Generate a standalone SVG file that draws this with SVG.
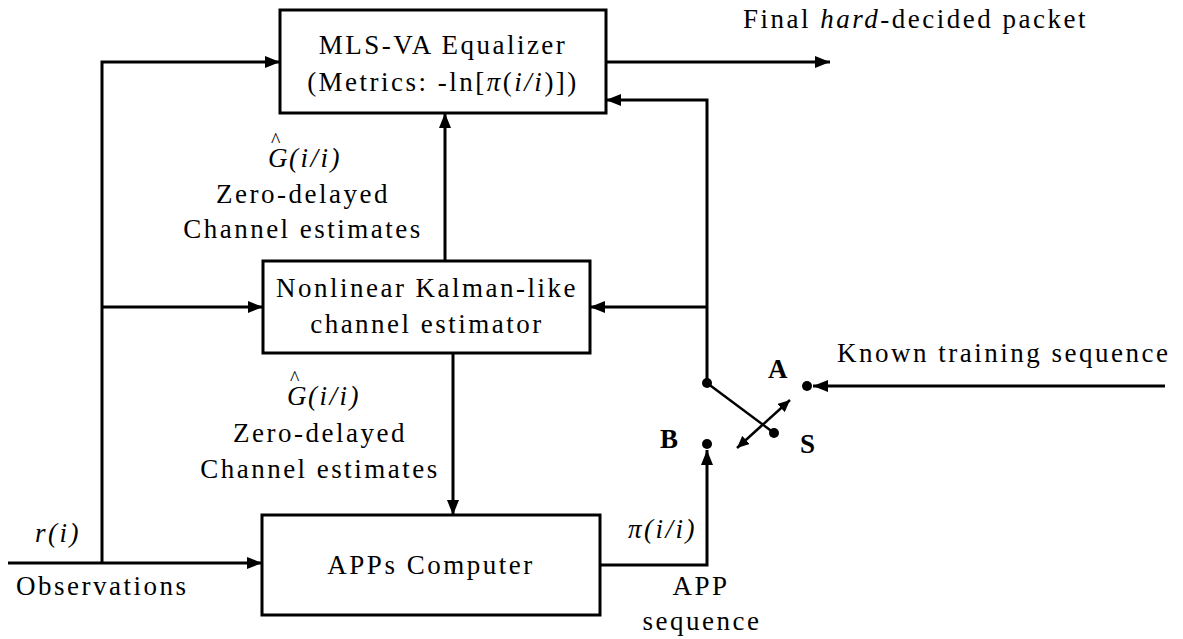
<svg xmlns="http://www.w3.org/2000/svg" width="1183" height="639" viewBox="0 0 1183 639">
<style>
text{font-family:"Liberation Serif","Times New Roman",serif;font-size:27px;fill:#000;letter-spacing:2.5px}
.i{font-style:italic}
.b{font-weight:bold;letter-spacing:0}
.hat{font-style:normal;font-size:20px;letter-spacing:0}
.box{fill:#fff;stroke:#000;stroke-width:3}
.ln{fill:none;stroke:#000;stroke-width:3}
.thin{fill:none;stroke:#000;stroke-width:2.5}
</style>
<defs>
<marker id="ah" markerUnits="userSpaceOnUse" markerWidth="16" markerHeight="12" refX="15" refY="6" orient="auto">
<path d="M0,0 L15,6 L0,12 z" fill="#000"/>
</marker>
<marker id="ahs" markerUnits="userSpaceOnUse" markerWidth="13" markerHeight="11" refX="12" refY="5.5" orient="auto-start-reverse">
<path d="M0,0 L12,5.5 L0,11 z" fill="#000"/>
</marker>
</defs>
<g id="connectors">
<path class="ln" d="M8,563 L262,563" marker-end="url(#ah)"/>
<path class="ln" d="M102,563 L102,62 L280,62" marker-end="url(#ah)"/>
<path class="ln" d="M102,307 L263,307" marker-end="url(#ah)"/>
<path class="ln" d="M606,62 L830,62" marker-end="url(#ah)"/>
<path class="ln" d="M707,383 L707,100 L606,100" marker-end="url(#ah)"/>
<path class="ln" d="M707,307 L590,307" marker-end="url(#ah)"/>
<path class="ln" d="M445,261 L445,113" marker-end="url(#ah)"/>
<path class="ln" d="M453,353 L453,515" marker-end="url(#ah)"/>
<path class="ln" d="M600,565 L707,565 L707,450" marker-end="url(#ah)"/>
<path class="ln" d="M1165,386 L813,386" marker-end="url(#ah)"/>
<path class="thin" d="M707,383 L774,433"/>
<path class="thin" d="M737,448 L790,400" marker-start="url(#ahs)" marker-end="url(#ahs)"/>
<circle cx="707" cy="383" r="5"/>
<circle cx="774" cy="433" r="5"/>
<circle cx="807" cy="386" r="5"/>
<circle cx="707" cy="444" r="5"/>
</g>
<g id="mls">
<rect class="box" x="280" y="10" width="326" height="103"/>
<text x="443" y="54" text-anchor="middle">MLS-VA Equalizer</text>
<text x="443" y="91" text-anchor="middle">(Metrics: -ln[<tspan class="i">π</tspan>(<tspan class="i">i/i</tspan>)])</text>
</g>
<g id="kalman">
<rect class="box" x="263" y="261" width="327" height="92"/>
<text x="427" y="297" text-anchor="middle">Nonlinear Kalman-like</text>
<text x="427" y="333" text-anchor="middle">channel estimator</text>
</g>
<g id="apps">
<rect class="box" x="262" y="515" width="338" height="100"/>
<text x="431" y="574" text-anchor="middle">APPs Computer</text>
</g>
<g id="labels">
<text x="743" y="28">Final <tspan class="i">hard</tspan>-decided packet</text>
<text x="268" y="167" class="i">G<tspan class="hat" x="271" y="147">^</tspan><tspan x="289" y="167">(i/i)</tspan></text>
<text x="303" y="203" text-anchor="middle">Zero-delayed</text>
<text x="303" y="238" text-anchor="middle">Channel estimates</text>
<text x="287" y="405" class="i">G<tspan class="hat" x="290" y="385">^</tspan><tspan x="308" y="405">(i/i)</tspan></text>
<text x="320" y="442" text-anchor="middle">Zero-delayed</text>
<text x="320" y="478" text-anchor="middle">Channel estimates</text>
<text x="35" y="542" class="i">r(i)</text>
<text x="16" y="595">Observations</text>
<text x="628" y="538" class="i">π(i/i)</text>
<text x="701" y="595" text-anchor="middle">APP</text>
<text x="702" y="630" text-anchor="middle">sequence</text>
<text x="837" y="362">Known training sequence</text>
<text x="768" y="378" class="b">A</text>
<text x="800" y="453" class="b">S</text>
<text x="660" y="448" class="b">B</text>
</g>
</svg>
